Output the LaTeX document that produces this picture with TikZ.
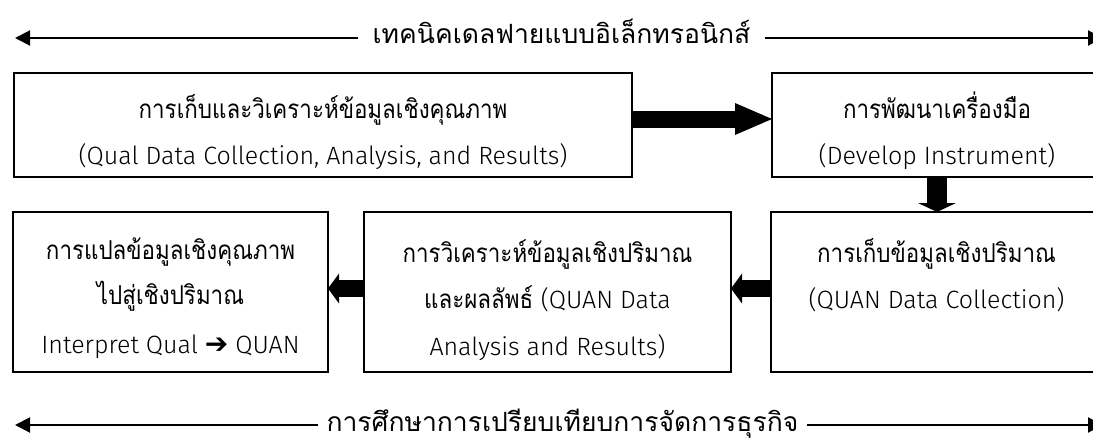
\documentclass[tikz,border=0pt]{standalone}
\usepackage{fontspec}
\setmainfont{Loma}[Script=Thai, FakeStretch=0.86]
\newfontfamily\labelfont{Loma}[Script=Thai]
\newfontfamily\lat{Fira Sans Light}
\newfontfamily\arrowglyph{DejaVu Sans}
\usetikzlibrary{arrows.meta}
% Latin runs inside the boxes
\newcommand\en[1]{{\lat\fontsize{25}{30}\selectfont #1}}

\begin{document}
\begin{tikzpicture}[x=1pt,y=-1pt,
  box/.style={draw, line width=2pt, inner sep=0pt, outer sep=0pt},
  ln/.style={font=\fontsize{26}{30}\selectfont, anchor=base, inner sep=0pt},
  spanlabel/.style={font=\labelfont\fontsize{26.5}{30}\selectfont, anchor=base},
  rulearrow/.style={line width=2pt, -{Triangle[length=15pt,width=15pt]}},
  fat/.style={line width=17pt, -{Triangle[length=11pt,width=30pt,line width=0pt]}},
  fatwide/.style={line width=17pt, -{Triangle[length=37pt,width=32pt,line width=0pt]}},
  fatdown/.style={line width=20pt, -{Triangle[length=9pt,width=38pt,line width=0pt]}}]
\useasboundingbox (0,0) rectangle (1093,439);
\clip (0,0) rectangle (1093,439);

% process boxes
\node[box, minimum width=618pt, minimum height=104pt] (qual) at (323,125) {};
\node[box, minimum width=330pt, minimum height=104pt] (instr) at (937,125) {};
\node[box, minimum width=331pt, minimum height=160pt] (quancol) at (936.5,292) {};
\node[box, minimum width=367pt, minimum height=160pt] (quanan) at (547.5,292) {};
\node[box, minimum width=315pt, minimum height=160pt] (interp) at (170.5,292) {};

% box texts, one node per line, placed on their baselines
\path (qual.north) ++(0,45) node[ln] (qual-1) {การเก็บและวิเคราะห์ข้อมูลเชิงคุณภาพ}
  ++(0,46) node[ln] (qual-2) {\en{(Qual Data Collection, Analysis, and Results)}};
\path (instr.north) ++(0,45) node[ln] (instr-1) {การพัฒนาเครื่องมือ}
  ++(0,46) node[ln] (instr-2) {\en{(Develop Instrument)}};
\path (quancol.north) ++(0,50) node[ln] (quancol-1) {การเก็บข้อมูลเชิงปริมาณ}
  ++(0,46) node[ln] (quancol-2) {\en{(QUAN Data Collection)}};
\path (quanan.north) ++(0,50) node[ln] (quanan-1) {การวิเคราะห์ข้อมูลเชิงปริมาณ}
  ++(0,46) node[ln] (quanan-2) {และผลลัพธ์ \en{(QUAN Data}}
  ++(0,47) node[ln] (quanan-3) {\en{Analysis and Results)}};
\path (interp.north) ++(0,47) node[ln] (interp-1) {การแปลข้อมูลเชิงคุณภาพ}
  ++(0,45) node[ln] (interp-2) {ไปสู่เชิงปริมาณ}
  ++(0,49) node[ln] (interp-3) {\en{Interpret Qual {\arrowglyph\fontsize{28}{28}\selectfont ➔} QUAN}};

% flow between the boxes
\draw[fatwide] ([yshift=6pt]qual.east) -- ([yshift=6pt]instr.west);
\draw[fatdown] (instr.south) -- (instr.south |- quancol.north);
\draw[fat] ([yshift=3.5pt]quancol.west) -- ([yshift=3.5pt]quanan.east);
\draw[fat] ([yshift=3.5pt]quanan.west) -- ([yshift=3.5pt]interp.east);

% spanning labels with double-ended rules
\node[spanlabel, inner xsep=14pt] (delphi) at (561.5,43)
  {เทคนิคเดลฟายแบบอิเล็กทรอนิกส์};
\coordinate (delphi-l) at (15,38);
\coordinate (delphi-r) at (1103,38);
\draw[rulearrow] (delphi.west |- delphi-l) -- (delphi-l);
\draw[rulearrow] (delphi.east |- delphi-r) -- (delphi-r);

\node[spanlabel, inner xsep=8pt] (bench) at (562.5,431)
  {การศึกษาการเปรียบเทียบการจัดการธุรกิจ};
\coordinate (bench-l) at (15,425);
\coordinate (bench-r) at (1103,425);
\draw[rulearrow] (bench.west |- bench-l) -- (bench-l);
\draw[rulearrow] (bench.east |- bench-r) -- (bench-r);
\end{tikzpicture}
\end{document}
